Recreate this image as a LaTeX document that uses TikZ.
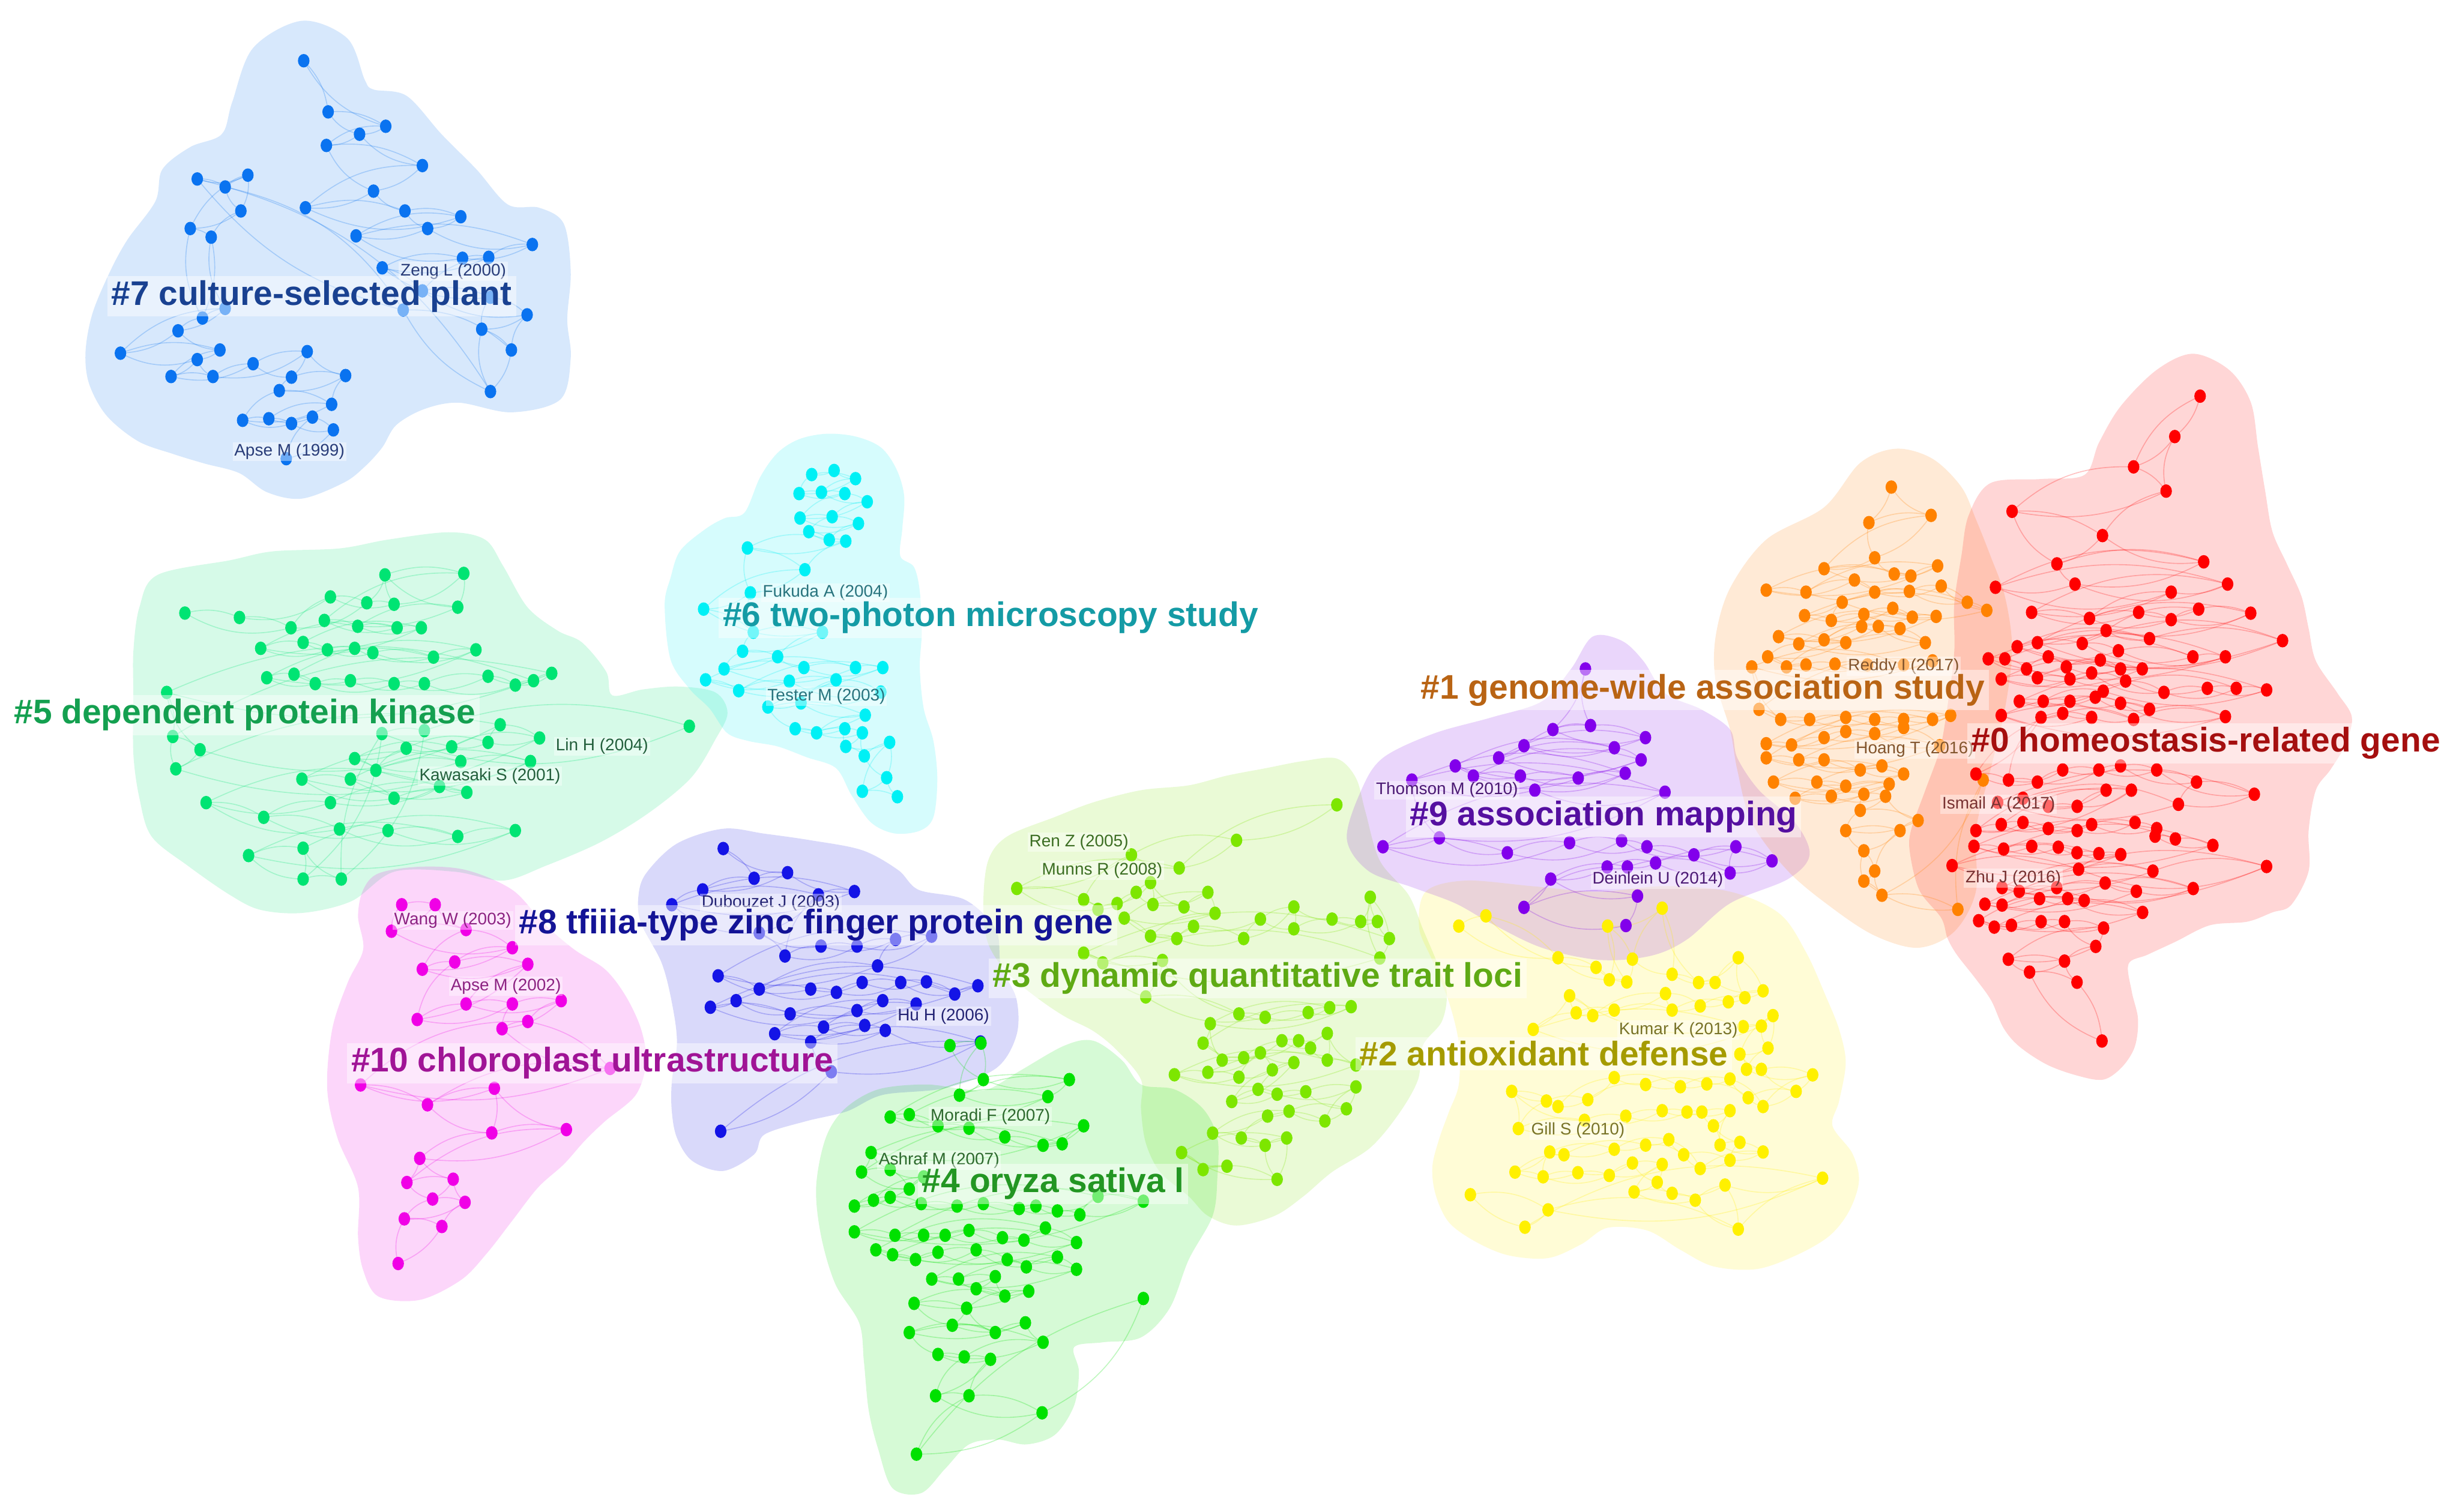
\documentclass[tikz,border=0pt]{standalone}
\usepackage{fontspec}
\newfontfamily\lsans{Liberation Sans}
\definecolor{c0}{RGB}{255,0,0}
\definecolor{c1}{RGB}{255,130,0}
\definecolor{c2}{RGB}{255,240,0}
\definecolor{c3}{RGB}{125,230,0}
\definecolor{c4}{RGB}{0,225,0}
\definecolor{c5}{RGB}{0,228,115}
\definecolor{c6}{RGB}{0,240,245}
\definecolor{c7}{RGB}{10,115,240}
\definecolor{c8}{RGB}{20,20,230}
\definecolor{c9}{RGB}{130,0,235}
\definecolor{c10}{RGB}{240,0,230}
\definecolor{t0}{RGB}{165,15,15}
\definecolor{t1}{RGB}{185,100,20}
\definecolor{t2}{RGB}{165,155,0}
\definecolor{t3}{RGB}{95,170,20}
\definecolor{t4}{RGB}{35,150,35}
\definecolor{t5}{RGB}{20,160,80}
\definecolor{t6}{RGB}{20,155,165}
\definecolor{t7}{RGB}{25,65,145}
\definecolor{t8}{RGB}{20,20,150}
\definecolor{t9}{RGB}{85,15,160}
\definecolor{t10}{RGB}{160,20,150}
\definecolor{s0}{RGB}{120,50,50}
\definecolor{s1}{RGB}{130,85,45}
\definecolor{s2}{RGB}{120,115,40}
\definecolor{s3}{RGB}{60,110,35}
\definecolor{s4}{RGB}{45,105,45}
\definecolor{s5}{RGB}{35,95,60}
\definecolor{s6}{RGB}{40,115,125}
\definecolor{s7}{RGB}{40,60,120}
\definecolor{s8}{RGB}{35,35,115}
\definecolor{s9}{RGB}{75,25,115}
\definecolor{s10}{RGB}{140,35,130}
\tikzset{
  netedge/.style={line width=0.35pt, draw opacity=0.25},
  biglabel/.style={anchor=west, inner sep=1.5pt, fill=white, fill opacity=0.45, text opacity=1,
    font=\lsans\bfseries\fontsize{12.4}{14}\selectfont},
  smalllabel/.style={anchor=west, inner sep=0.6pt, fill=white, fill opacity=0.4, text opacity=1,
    font=\lsans\fontsize{6.1}{7}\selectfont},
}
% #1 ox #2 oy #3 kx #4 ky #5 colour #6 coordinates
\newcommand\blobfill[6]{%
  \begin{scope}[shift={(#1,#2)}, xscale=#3, yscale=#4]
    \fill[#5, fill opacity=0.16] plot[smooth cycle, tension=0.55] coordinates {#6};
  \end{scope}}
\newcommand\clusternet[6]{%
  \foreach \a/\b [count=\i, remember=\pa as \ppa (initially 0), remember=\pb as \ppb (initially 0),
                  remember=\a as \pa (initially 0), remember=\b as \pb (initially 0)] in #6 {%
    \ifnum\i>1 \draw[#5, netedge] ({#1+#3*\pa},{#2+#4*\pb}) to[bend left=18] ({#1+#3*\a},{#2+#4*\b});\fi
    \ifnum\i>2 \draw[#5, netedge] ({#1+#3*\ppa},{#2+#4*\ppb}) to[bend right=22] ({#1+#3*\a},{#2+#4*\b});\fi
  }}
\newcommand\clusterdots[6]{%
  \foreach \a/\b in #6 {\fill[#5] ({#1+#3*\a},{#2+#4*\b}) circle[x radius=2.1pt, y radius=2.45pt];}}

\def\dotsseven{705/190, 775/350, 940/395, 865/420, 770/455, 1045/518, 905/598, 710/650, 995/660, 1155/678, 1060/715, 855/738, 1360/765, 1160/808, 1235/805, 930/838, 1045/910, 1240/930, 1345/985, 1215/1030, 1300/1095, 1240/1225, 990/970, 400/560, 480/585, 545/548, 525/660, 380/715, 440/742, 415/995, 480/965, 345/1035, 180/1105, 465/1095, 400/1125, 325/1178, 445/1178, 560/1138, 715/1100, 670/1180, 825/1175, 635/1222, 785/1265, 530/1315, 605/1310, 670/1325, 730/1305, 790/1345, 655/1435}
\def\dotsfive{305/420, 395/435, 480/470, 545/365, 605/385, 650/390, 635/290, 765/285, 755/400, 535/445, 590/465, 655/470, 695/470, 430/540, 500/520, 540/545, 585/540, 615/555, 715/570, 785/545, 440/640, 485/628, 520/660, 578/650, 650/660, 700/660, 805/635, 850/665, 880/650, 910/625, 275/690, 285/840, 330/885, 290/950, 825/800, 890/845, 805/860, 745/875, 670/880, 585/915, 620/955, 760/925, 875/925, 498/985, 578/985, 650/1050, 770/1030, 725/1010, 545/1065, 340/1065, 435/1115, 560/1155, 640/1160, 755/1180, 850/1160, 410/1245, 500/1220, 500/1325, 563/1325, 630/830, 700/820, 1137/805}
\def\dotssix{940/205, 825/220, 1050/235, 760/290, 875/285, 995/290, 1110/320, 765/380, 930/375, 1065/400, 810/430, 915/460, 1000/465, 495/490, 790/570, 510/655, 270/715, 525/800, 880/800, 470/870, 650/890, 375/935, 785/930, 1050/930, 1190/930, 280/975, 450/1015, 710/980, 950/975, 1180/1020, 770/1060, 600/1075, 1100/1105, 740/1155, 850/1170, 995/1155, 1085/1170, 1000/1220, 1095/1255, 1225/1205, 1210/1335, 1085/1385, 1265/1405}
\def\dotseight{790/75, 850/165, 915/148, 750/200, 1045/205, 690/245, 975/215, 860/330, 910/400, 980/370, 1050/370, 1125/350, 1195/340, 1090/430, 780/460, 860/500, 960/500, 1010/510, 1060/480, 1135/480, 1185/478, 1240/515, 1285/490, 815/535, 765/555, 920/575, 1050/565, 1100/535, 1165/545, 890/635, 985/615, 1065/610, 1105/625, 960/660, 1290/660, 1000/750, 785/930}
\def\dotsten{165/245, 230/245, 145/325, 290/320, 380/375, 205/440, 268/418, 410/425, 195/592, 290/545, 380/545, 475/535, 360/620, 410/598, 570/740, 85/790, 215/850, 345/800, 340/935, 485/925, 200/1012, 175/1085, 265/1075, 225/1135, 288/1145, 170/1195, 243/1218, 158/1330}
\def\dotsthree{1110/115, 900/188, 780/245, 680/218, 440/287, 580/310, 610/330, 650/318, 690/295, 720/275, 725/320, 790/325, 840/295, 855/338, 665/348, 720/385, 775/390, 810/365, 915/390, 950/350, 1020/325, 1020/370, 1100/350, 1160/355, 1195/355, 1180/305, 1220/390, 1200/430, 580/420, 620/440, 745/435, 710/510, 905/545, 960/552, 1050/542, 1095/532, 1140/530, 845/565, 830/605, 870/640, 915/635, 995/600, 1030/600, 1055/615, 1090/585, 1090/640, 1150/650, 770/670, 840/665, 905/675, 950/625, 975/660, 1020/645, 890/725, 945/700, 985/710, 1045/705, 1150/695, 1130/740, 1085/765, 1010/745, 965/755, 850/790, 910/800, 960/815, 1005/800, 985/885, 785/830, 830/865, 880/858}
\def\dotsfour{300/610, 365/605, 370/680, 320/712, 550/680, 505/715, 175/757, 215/752, 275/775, 340/780, 415/798, 495/815, 535/812, 580/775, 135/830, 115/870, 175/865, 215/905, 245/880, 100/940, 140/928, 175/922, 240/935, 315/940, 370/935, 445/945, 480/940, 525/950, 572/958, 610/920, 705/930, 100/993, 185/1000, 245/1000, 290/1000, 340/990, 410/1005, 455/1010, 500/985, 565/1015, 145/1030, 180/1040, 228/1050, 275/1035, 355/1030, 420/1050, 460/1065, 525/1045, 565/1070, 262/1090, 318/1090, 395/1085, 355/1110, 415/1125, 465/1115, 225/1140, 335/1150, 305/1185, 395/1200, 458/1180, 215/1200, 495/1220, 275/1245, 330/1250, 385/1255, 270/1330, 340/1330, 493/1365, 230/1450, 705/1130}
\def\dotstwo{230/225, 312/188, 530/340, 645/375, 685/420, 738/428, 680/225, 755/345, 845/160, 875/400, 955/430, 1005/430, 1075/340, 1150/460, 1095/485, 1045/500, 960/515, 875/530, 855/470, 700/530, 635/550, 585/540, 565/478, 455/600, 1090/590, 1145/588, 1180/550, 1165/668, 1080/690, 1100/745, 1145/745, 1300/765, 1250/825, 1150/880, 1105/848, 1050/780, 980/798, 900/808, 795/800, 700/775, 620/855, 530/880, 495/860, 390/825, 410/960, 610/930, 735/915, 845/895, 920/900, 965/900, 1050/895, 1000/950, 1020/1020, 1080/1010, 1150/1045, 1050/1075, 960/1105, 910/1055, 865/1000, 795/1020, 700/1035, 548/1055, 505/1045, 400/1118, 485/1135, 590/1120, 685/1130, 755/1085, 845/1090, 830/1155, 760/1190, 875/1195, 945/1220, 1035/1165, 1075/1325, 1330/1140, 500/1255, 430/1318, 265/1200}
\def\dotsnine{360/800, 315/950, 367/940, 443/970, 275/990, 240/1020, 400/995, 437/1025, 180/1040, 205/1065, 270/1065, 350/1070, 415/1058, 290/1100, 120/1075, 470/1105, 158/1218, 80/1240, 252/1255, 338/1230, 410/1225, 445/1240, 510/1260, 568/1240, 618/1275, 560/1305, 457/1280, 418/1290, 390/1290, 312/1320, 275/1390, 432/1362, 416/1435}
\def\dotsone{783/350, 752/438, 838/420, 760/525, 690/552, 787/565, 810/570, 847/545, 610/605, 665/610, 732/580, 760/610, 808/608, 852/595, 888/635, 915/655, 715/635, 663/668, 700/680, 745/665, 785/650, 812/672, 845/670, 627/720, 690/728, 742/695, 765/695, 795/700, 830/735, 655/738, 720/735, 612/770, 638/795, 665/790, 705/788, 750/790, 800/790, 840/780, 590/795, 600/900, 630/925, 670/925, 720/920, 760/925, 800/925, 840/925, 865/915, 610/985, 645/988, 690/970, 720/955, 760/960, 800/945, 850/990, 610/1020, 655/1025, 690/1025, 740/1050, 770/1040, 800/1060, 620/1080, 680/1080, 720/1090, 780/1085, 650/1120, 700/1115, 745/1110, 775/1115, 740/1150, 820/1175, 720/1200, 795/1200, 745/1250, 760/1300, 745/1325, 770/1360, 875/1395, 910/1075}
\def\dotszeroa{1210/125, 1175/225, 1118/300, 1163/360, 950/410, 1075/470, 1012/540, 1215/535, 1037/590, 927/598, 1248/590, 1170/610, 977/660, 1057/675, 1125/660, 1170/678, 1208/652, 1280/662, 1080/705, 985/735, 1140/725, 1324/730, 957/745, 1047/737, 1097/755, 1200/770, 1245/770, 917/775, 940/775, 970/800, 1000/770, 1025/795, 1072/778, 1100/800, 1130/800, 935/825, 985/822, 1030/825, 1060/810, 1107/830, 1160/858, 1220/848, 1260/848, 1302/852, 1076/855, 960/880, 993/880, 1030/880, 1065/870, 1100/885, 1140/900, 1245/918, 935/915, 1118/925, 1060/920, 1020/910, 990/920, 900/1060, 945/1075, 985/1080, 1020/1050, 1070/1050, 1100/1040, 1150/1050, 1205/1080, 1285/1110, 1180/1135, 930/1130, 965/1120, 1000/1140, 1040/1140, 1080/1100, 1115/1100, 900/1200, 935/1185, 965/1180, 1000/1195, 1040/1200, 1060/1185, 1120/1180, 1150/1195}
\def\dotszerob{905/5, 970/20, 1090/55, 325/60, 420/75, 510/60, 595/65, 655/95, 725/100, 795/105, 255/165, 660/185, 898/195, 1262/170, 415/285, 470/305, 590/285, 745/260, 1027/290, 845/305, 360/375, 415/380, 535/345, 625/345, 678/355, 865/420, 340/465, 390/500, 445/490, 540/470, 615/470, 740/505, 715/605, 435/675, 615/685, 503/745, 655/800, 735/1120}

\begin{document}
\begin{tikzpicture}[x=0.02cm, y=-0.02cm]
\useasboundingbox (0,0) rectangle (1568,964);
\fill[white] (0,0) rectangle (1568,964);

% ---------- cluster areas ----------
\blobfill{36.74}{0}{0.22258}{0.20384}{c7}{(700,65) (830,120) (880,250) (905,280) (1000,300) (1100,420) (1200,530) (1290,640) (1380,650) (1450,700) (1470,850) (1460,1000) (1470,1120) (1440,1250) (1300,1290) (1150,1260) (1050,1280) (970,1330) (930,1400) (880,1460) (820,1510) (700,1560) (600,1540) (520,1480) (420,1450) (330,1420) (230,1380) (140,1300) (90,1200) (80,1100) (100,980) (150,850) (200,750) (280,630) (300,530) (380,460) (470,420) (500,320) (560,150)}
\blobfill{0}{312.27}{0.38658}{0.18744}{c5}{(260,290) (380,240) (450,210) (560,200) (640,170) (740,145) (800,170) (830,260) (870,400) (920,480) (960,520) (1000,620) (1010,700) (1060,680) (1120,670) (1180,690) (1200,760) (1180,850) (1140,980) (1070,1100) (990,1200) (900,1280) (830,1330) (750,1300) (650,1300) (580,1400) (500,1440) (430,1430) (380,1380) (310,1280) (250,1180) (230,1050) (220,900) (220,700) (220,550) (230,400)}
\blobfill{415.14}{264.51}{0.12418}{0.17338}{c6}{(480,360) (560,230) (650,140) (760,90) (900,70) (1050,80) (1180,120) (1260,200) (1300,300) (1290,420) (1280,520) (1350,560) (1380,650) (1390,800) (1380,930) (1400,1080) (1450,1200) (1470,1340) (1450,1480) (1380,1530) (1250,1540) (1130,1500) (1030,1400) (950,1300) (800,1260) (650,1220) (500,1200) (390,1170) (300,1080) (200,1010) (100,900) (70,700) (100,600) (150,500) (280,420) (380,380)}
\blobfill{202.06}{525.35}{0.32801}{0.21087}{c10}{(90,200) (120,150) (200,130) (290,140) (380,200) (440,300) (500,380) (560,440) (600,520) (630,620) (640,720) (620,820) (560,900) (520,960) (480,1030) (430,1100) (380,1200) (330,1300) (280,1380) (200,1440) (120,1430) (90,1350) (80,1250) (80,1100) (40,950) (20,800) (30,620) (60,480) (90,380) (80,280)}
\blobfill{202.06}{525.35}{0.32801}{0.21087}{c8}{(640,150) (700,60) (790,15) (870,30) (960,50) (1060,80) (1130,140) (1170,200) (1260,230) (1320,320) (1330,430) (1360,530) (1360,640) (1320,740) (1220,800) (1100,820) (1030,870) (950,900) (870,940) (850,1000) (790,1050) (730,1020) (700,950) (690,870) (690,780) (700,660) (690,540) (670,420) (630,300) (625,220)}
\blobfill{514.33}{477.59}{0.30459}{0.31021}{c3}{(380,230) (420,180) (520,140) (600,110) (700,85) (800,75) (880,55) (960,40) (1040,25) (1110,20) (1150,60) (1170,130) (1200,230) (1260,300) (1290,370) (1320,440) (1340,500) (1330,560) (1290,610) (1280,680) (1240,750) (1180,820) (1100,870) (1040,920) (980,960) (900,980) (840,960) (800,920) (740,870) (710,810) (700,740) (700,680) (650,620) (600,580) (540,550) (480,510) (420,460) (380,400) (370,320)}
\blobfill{514.33}{477.59}{0.30459}{0.31021}{c4}{(150,700) (250,690) (330,700) (380,700) (450,660) (540,610) (600,600) (660,640) (700,690) (770,700) (830,740) (860,800) (860,880) (850,960) (800,1050) (760,1150) (700,1210) (620,1220) (560,1230) (570,1280) (560,1350) (520,1410) (460,1430) (400,1420) (340,1430) (290,1480) (240,1530) (180,1520) (150,1440) (130,1360) (120,1260) (110,1180) (60,1100) (30,1000) (20,900) (40,800) (80,740)}
\blobfill{881.70}{551.07}{0.21087}{0.17572}{c2}{(130,100) (250,60) (450,80) (650,100) (850,80) (1050,100) (1200,180) (1280,320) (1340,480) (1380,600) (1400,720) (1380,860) (1360,950) (1420,1050) (1440,1150) (1410,1260) (1350,1350) (1250,1420) (1130,1470) (1000,1460) (900,1400) (800,1330) (680,1320) (600,1380) (500,1430) (380,1420) (280,1370) (200,1300) (160,1200) (150,1100) (170,1000) (200,900) (230,800) (230,650) (200,500) (150,350) (110,230)}
\blobfill{844.96}{220.43}{0.46110}{0.25773}{c9}{(370,720) (410,730) (440,780) (470,860) (520,900) (560,950) (570,1020) (600,1100) (650,1180) (670,1260) (640,1320) (560,1380) (500,1470) (450,1510) (380,1520) (300,1490) (230,1430) (180,1380) (120,1340) (60,1300) (30,1220) (50,1100) (80,1020) (150,960) (230,920) (300,880) (340,800)}
\blobfill{844.96}{220.43}{0.46110}{0.25773}{c1}{(540,720) (560,600) (610,480) (690,400) (740,290) (790,255) (840,280) (880,350) (900,430) (920,520) (940,620) (950,750) (940,900) (920,1050) (900,1200) (900,1350) (870,1450) (820,1490) (760,1460) (700,1390) (640,1300) (590,1180) (570,1050) (560,950) (540,830)}
\blobfill{0}{0}{1}{1}{c0}{(1398.3,225.6) (1421.4,235.9) (1435.2,256.5) (1439.8,284.9) (1444.4,313.2) (1449.0,339.0) (1458.2,359.6) (1467.5,380.2) (1472.1,400.8) (1476.7,421.5) (1490.5,442.1) (1499.7,457.5) (1495.1,475.6) (1485.9,491.0) (1476.7,503.9) (1472.1,529.7) (1472.1,555.5) (1460.9,577.2) (1448.9,581.9) (1433.0,587.8) (1409.1,590.1) (1387.2,600.6) (1369.3,608.9) (1357.3,614.7) (1359.3,632.3) (1363.3,649.9) (1361.3,667.4) (1353.3,680.3) (1341.4,688.5) (1325.4,686.2) (1305.5,679.1) (1287.6,667.4) (1277.6,655.7) (1269.7,638.1) (1259.7,624.1) (1247.8,608.9) (1241.8,598.3) (1237.8,585.4) (1223.9,567.8) (1217.9,544.1) (1218.5,529.7) (1227.7,503.9) (1236.9,478.2) (1241.5,452.4) (1246.1,416.3) (1246.1,385.4) (1250.7,354.4) (1255.3,328.7) (1269.2,308.1) (1301.4,305.5) (1329.1,302.9) (1338.4,282.3) (1352.2,259.1) (1375.2,235.9)}

% ---------- links ----------
\clusternet{36.74}{0}{0.22258}{0.20384}{c7}{\dotsseven}
\clusternet{0}{312.27}{0.38658}{0.18744}{c5}{\dotsfive}
\clusternet{415.14}{264.51}{0.12418}{0.17338}{c6}{\dotssix}
\clusternet{202.06}{525.35}{0.32801}{0.21087}{c8}{\dotseight}
\clusternet{202.06}{525.35}{0.32801}{0.21087}{c10}{\dotsten}
\clusternet{514.33}{477.59}{0.30459}{0.31021}{c3}{\dotsthree}
\clusternet{514.33}{477.59}{0.30459}{0.31021}{c4}{\dotsfour}
\clusternet{881.70}{551.07}{0.21087}{0.17572}{c2}{\dotstwo}
\clusternet{844.96}{220.43}{0.46110}{0.25773}{c9}{\dotsnine}
\clusternet{844.96}{220.43}{0.46110}{0.25773}{c1}{\dotsone}
\clusternet{844.96}{220.43}{0.46110}{0.25773}{c0}{\dotszeroa}
\clusternet{1193.97}{532.70}{0.19915}{0.11715}{c0}{\dotszerob}

% ---------- references ----------
\clusterdots{36.74}{0}{0.22258}{0.20384}{c7}{\dotsseven}
\clusterdots{0}{312.27}{0.38658}{0.18744}{c5}{\dotsfive}
\clusterdots{415.14}{264.51}{0.12418}{0.17338}{c6}{\dotssix}
\clusterdots{202.06}{525.35}{0.32801}{0.21087}{c8}{\dotseight}
\clusterdots{202.06}{525.35}{0.32801}{0.21087}{c10}{\dotsten}
\clusterdots{514.33}{477.59}{0.30459}{0.31021}{c3}{\dotsthree}
\clusterdots{514.33}{477.59}{0.30459}{0.31021}{c4}{\dotsfour}
\clusterdots{881.70}{551.07}{0.21087}{0.17572}{c2}{\dotstwo}
\clusterdots{844.96}{220.43}{0.46110}{0.25773}{c9}{\dotsnine}
\clusterdots{844.96}{220.43}{0.46110}{0.25773}{c1}{\dotsone}
\clusterdots{844.96}{220.43}{0.46110}{0.25773}{c0}{\dotszeroa}
\clusterdots{1193.97}{532.70}{0.19915}{0.11715}{c0}{\dotszerob}

% ---------- reference labels ----------
\node[smalllabel, text=s7] (r7a) at (254,173) {Zeng L (2000)};
\node[smalllabel, text=s7] (r7b) at (148,288) {Apse M (1999)};
\node[smalllabel, text=s5] (r5a) at (353,476) {Lin H (2004)};
\node[smalllabel, text=s5] (r5b) at (266,495) {Kawasaki S (2001)};
\node[smalllabel, text=s6] (r6a) at (485,378) {Fukuda A (2004)};
\node[smalllabel, text=s6] (r6b) at (488,444) {Tester M (2003)};
\node[smalllabel, text=s8] (r8a) at (446,576) {Dubouzet J (2003)};
\node[smalllabel, text=s8] (r8b) at (571,648) {Hu H (2006)};
\node[smalllabel, text=s10] (r10a) at (250,587) {Wang W (2003)};
\node[smalllabel, text=s10] (r10b) at (286,629) {Apse M (2002)};
\node[smalllabel, text=s3] (r3a) at (655,537) {Ren Z (2005)};
\node[smalllabel, text=s3] (r3b) at (663,555) {Munns R (2008)};
\node[smalllabel, text=s4] (r4a) at (592,712) {Moradi F (2007)};
\node[smalllabel, text=s4] (r4b) at (559,740) {Ashraf M (2007)};
\node[smalllabel, text=s2] (r2a) at (1031,657) {Kumar K (2013)};
\node[smalllabel, text=s2] (r2b) at (975,721) {Gill S (2010)};
\node[smalllabel, text=s9] (r9a) at (876,504) {Thomson M (2010)};
\node[smalllabel, text=s9] (r9b) at (1014,561) {Deinlein U (2014)};
\node[smalllabel, text=s1] (r1a) at (1177,425) {Reddy I (2017)};
\node[smalllabel, text=s1] (r1b) at (1182,478) {Hoang T (2016)};
\node[smalllabel, text=s0] (r0a) at (1237,513) {Ismail A (2017)};
\node[smalllabel, text=s0] (r0b) at (1252,560) {Zhu J (2016)};

% ---------- cluster labels ----------
\node[biglabel, text=t7] (l7) at (68,189) {\#7 culture-selected plant};
\node[biglabel, text=t5] (l5) at (6,456) {\#5 dependent protein kinase};
\node[biglabel, text=t6] (l6) at (458,394) {\#6 two-photon microscopy study};
\node[biglabel, text=t8] (l8) at (328,590) {\#8 tfiiia-type zinc finger protein gene};
\node[biglabel, text=t10] (l10) at (221,678) {\#10 chloroplast ultrastructure};
\node[biglabel, text=t3] (l3) at (630,624) {\#3 dynamic quantitative trait loci};
\node[biglabel, text=t4] (l4) at (585,755) {\#4 oryza sativa l};
\node[biglabel, text=t2] (l2) at (864,672) {\#2 antioxidant defense};
\node[biglabel, text=t9] (l9) at (896,521) {\#9 association mapping};
\node[biglabel, text=t1] (l1) at (903,440) {\#1 genome-wide association study};
\node[biglabel, text=t0] (l0) at (1254,474) {\#0 homeostasis-related gene};
\end{tikzpicture}
\end{document}
